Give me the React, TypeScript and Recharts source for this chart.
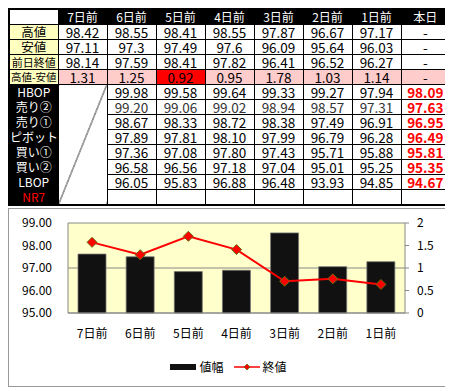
import { ComposedChart, Bar, Line, XAxis, YAxis, CartesianGrid, Legend } from "recharts";

const days = ["7日前", "6日前", "5日前", "4日前", "3日前", "2日前", "1日前"];
const todayLabel = "本日";

const highs = ["98.42", "98.55", "98.41", "98.55", "97.87", "96.67", "97.17"];
const lows = ["97.11", "97.3", "97.49", "97.6", "96.09", "95.64", "96.03"];
const prevClose = [98.14, 97.59, 98.41, 97.82, 96.41, 96.52, 96.27];
const ranges = [1.31, 1.25, 0.92, 0.95, 1.78, 1.03, 1.14];

// pivot rows: 6日前 .. 1日前, then 本日
const pivotLabels = ["HBOP", "売り②", "売り①", "ピボット", "買い①", "買い②", "LBOP"];
const hbop = ["99.98", "99.58", "99.64", "99.33", "99.27", "97.94", "98.09"];
const sell2 = ["99.20", "99.06", "99.02", "98.94", "98.57", "97.31", "97.63"];
const sell1 = ["98.67", "98.33", "98.72", "98.38", "97.49", "96.91", "96.95"];
const pivot = ["97.89", "97.81", "98.10", "97.99", "96.79", "96.28", "96.49"];
const buy1 = ["97.36", "97.08", "97.80", "97.43", "95.71", "95.88", "95.81"];
const buy2 = ["96.58", "96.56", "97.18", "97.04", "95.01", "95.25", "95.35"];
const lbop = ["96.05", "95.83", "96.88", "96.48", "93.93", "94.85", "94.67"];
const pivotRows = [hbop, sell2, sell1, pivot, buy1, buy2, lbop];

const leftTicks = [95, 96, 97, 98, 99];
const rightTicks = [0, 0.5, 1, 1.5, 2];

const chartData = days.map((d, i) => ({ day: d, 値幅: ranges[i], 終値: prevClose[i] }));

const numFont = "'Liberation Sans Narrow', 'Noto Sans CJK JP', sans-serif";
const jpFont = "'Noto Sans CJK JP', sans-serif";

const cell: React.CSSProperties = {
  border: "1px solid #000",
  padding: 0,
  height: 14,
  lineHeight: "14px",
  textAlign: "center",
  fontFamily: numFont,
  fontSize: 13.5,
  whiteSpace: "nowrap",
};
const yellowLabel: React.CSSProperties = { ...cell, background: "#FFFFC0", fontFamily: jpFont, fontSize: 12.5 };
const blackLabel: React.CSSProperties = { ...cell, background: "#000", color: "#fff", fontFamily: jpFont, fontSize: 12 };

function Diamond(props: any) {
  const { cx, cy } = props;
  if (cx == null || cy == null) return null;
  const r = 5;
  return (
    <polygon
      points={`${cx},${cy - r} ${cx + r},${cy} ${cx},${cy + r} ${cx - r},${cy}`}
      fill="#ff0000"
      stroke="#6b6b10"
      strokeWidth={1}
    />
  );
}

function LegendBox() {
  return (
    <div style={{ display: "flex", justifyContent: "center", alignItems: "center", fontFamily: jpFont, fontSize: 12, color: "#000" }}>
      <svg width={26} height={8}>
        <rect x={0} y={1} width={26} height={6} fill="#111" />
      </svg>
      <span style={{ marginLeft: 3, marginRight: 10 }}>値幅</span>
      <svg width={26} height={10}>
        <line x1={0} y1={5} x2={26} y2={5} stroke="#ff0000" strokeWidth={1.5} />
        <polygon points="13,2 16,5 13,8 10,5" fill="#ff0000" stroke="#6b6b10" strokeWidth={0.8} />
      </svg>
      <span style={{ marginLeft: 3 }}>終値</span>
    </div>
  );
}

export default function App() {
  return (
    <div style={{ width: 441 }}>
      <table style={{ borderCollapse: "collapse", tableLayout: "fixed", width: 441, border: "2px solid #000" }}>
        <colgroup>
          {Array.from({ length: 9 }).map((_, i) => (
            <col key={i} style={{ width: 49 }} />
          ))}
        </colgroup>
        <tbody>
          <tr>
            <td style={{ ...cell, background: "#fff" }}></td>
            {[...days, todayLabel].map((d) => (
              <td key={d} style={{ ...cell, background: "#000", color: "#fff", fontFamily: jpFont, fontSize: 12 }}>
                {d}
              </td>
            ))}
          </tr>
          <tr>
            <td style={yellowLabel}>高値</td>
            {highs.map((v, i) => <td key={i} style={cell}>{v}</td>)}
            <td style={cell}>-</td>
          </tr>
          <tr>
            <td style={yellowLabel}>安値</td>
            {lows.map((v, i) => <td key={i} style={cell}>{v}</td>)}
            <td style={cell}>-</td>
          </tr>
          <tr>
            <td style={{ ...yellowLabel, fontSize: 11 }}>前日終値</td>
            {prevClose.map((v, i) => <td key={i} style={cell}>{v}</td>)}
            <td style={cell}>-</td>
          </tr>
          <tr>
            <td style={{ ...yellowLabel, fontSize: 10.5 }}>高値-安値</td>
            {ranges.map((v, i) => (
              <td key={i} style={{ ...cell, background: i === 2 ? "#ff0000" : "#FFCCCC" }}>{v}</td>
            ))}
            <td style={{ ...cell, background: "#FFCCCC" }}>-</td>
          </tr>
          {pivotRows.map((row, r) => (
            <tr key={r}>
              <td style={blackLabel}>{pivotLabels[r]}</td>
              {r === 0 && (
                <td
                  rowSpan={8}
                  style={{
                    ...cell,
                    background:
                      "linear-gradient(to top left, transparent calc(50% - 0.7px), #000 50%, transparent calc(50% + 0.7px))",
                  }}
                ></td>
              )}
              {row.map((v, i) => (
                <td
                  key={i}
                  style={{
                    ...cell,
                    color: i === 6 ? "#ff0000" : r === 1 ? "#333" : "#000",
                    fontWeight: i === 6 ? "bold" : "normal",
                  }}
                >
                  {v}
                </td>
              ))}
            </tr>
          ))}
          <tr>
            <td style={{ ...blackLabel, color: "#ff0000" }}>NR7</td>
            {Array.from({ length: 7 }).map((_, i) => <td key={i} style={cell}></td>)}
          </tr>
        </tbody>
      </table>
      <div style={{ marginTop: 2, border: "1px solid #999", width: 439, height: 177 }}>
        <ComposedChart width={439} height={177} data={chartData} margin={{ top: 14, right: 0, bottom: 8, left: 0 }}>
          <CartesianGrid yAxisId="left" vertical={false} stroke="#888" fill="#FFFFCC" />
          <XAxis
            dataKey="day"
            tickLine={false}
            tickSize={0}
            tickMargin={16}
            height={45}
            axisLine={{ stroke: "#888" }}
            tick={{ fontFamily: jpFont, fontSize: 12, fill: "#000" }}
          />
          <YAxis
            yAxisId="left"
            orientation="left"
            domain={[95, 99]}
            ticks={leftTicks}
            width={59}
            tickLine={false}
            tickSize={0}
            tickMargin={16}
            axisLine={{ stroke: "#888" }}
            tickFormatter={(v: number) => v.toFixed(2)}
            tick={{ fontFamily: jpFont, fontSize: 12, fill: "#000" }}
          />
          <YAxis
            yAxisId="right"
            orientation="right"
            domain={[0, 2]}
            ticks={rightTicks}
            width={43}
            tickSize={4}
            tickMargin={8}
            tickLine={{ stroke: "#888" }}
            axisLine={{ stroke: "#888" }}
            tick={{ fontFamily: jpFont, fontSize: 12, fill: "#000", textAnchor: "start" }}
          />
          <Legend verticalAlign="bottom" height={20} content={() => <LegendBox />} />
          <Bar yAxisId="right" dataKey="値幅" fill="#111" stroke="#777" strokeWidth={0.8} barSize={28} isAnimationActive={false} />
          <Line
            yAxisId="left"
            dataKey="終値"
            stroke="#ff0000"
            strokeWidth={2}
            dot={<Diamond />}
            activeDot={false}
            isAnimationActive={false}
          />
        </ComposedChart>
      </div>
    </div>
  );
}
